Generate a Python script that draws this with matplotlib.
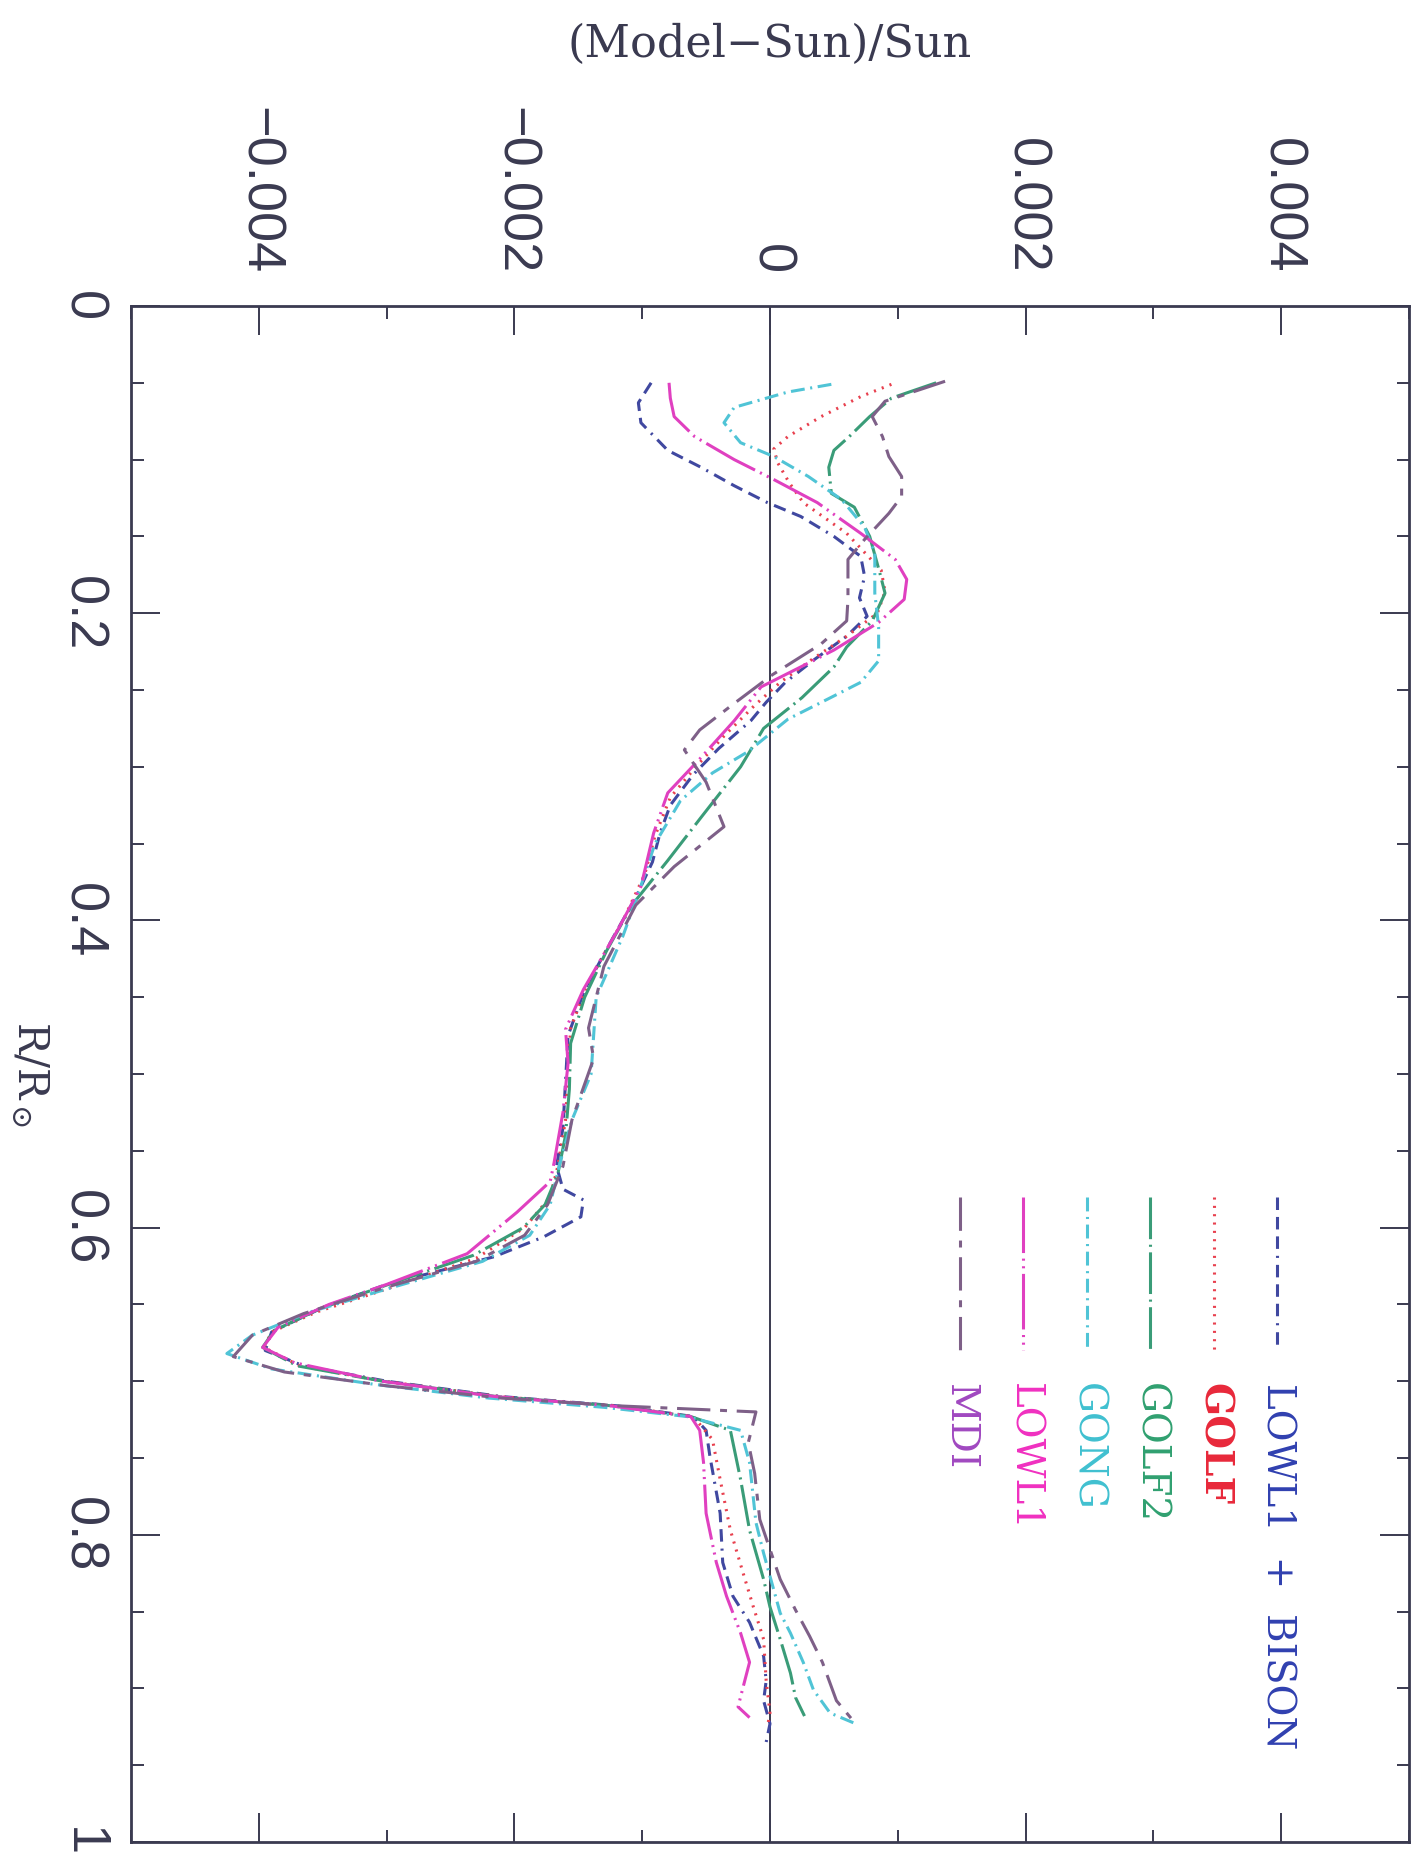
import numpy as np
import matplotlib.pyplot as plt
from matplotlib.lines import Line2D
from matplotlib.ticker import FixedLocator, FixedFormatter, MultipleLocator

plt.rcParams['font.family'] = ['Liberation Sans', 'DejaVu Sans']
plt.rcParams['mathtext.fontset'] = 'dejavuserif'
plt.rcParams['lines.scale_dashes'] = False

# radius R/Rsun and relative difference (units of 1e-3)
r_bison = [0.050, 0.063, 0.076, 0.094, 0.105, 0.117, 0.128, 0.137, 0.150, 0.163,
           0.176, 0.190, 0.202, 0.215, 0.230, 0.245, 0.258, 0.270, 0.288, 0.305,
           0.325, 0.343, 0.362, 0.385, 0.410, 0.445, 0.475, 0.505, 0.535, 0.560,
           0.575, 0.582, 0.593, 0.606, 0.619, 0.637, 0.652, 0.668, 0.680, 0.690,
           0.700, 0.710, 0.716, 0.723, 0.732, 0.749, 0.786, 0.818, 0.840, 0.857,
           0.879, 0.895, 0.908, 0.923, 0.935]
dc_bison = [-0.93, -1.03, -1.01, -0.80, -0.54, -0.28, -0.02, 0.24, 0.50, 0.71,
            0.74, 0.70, 0.76, 0.60, 0.35, 0.12, -0.03, -0.15, -0.40, -0.60,
            -0.78, -0.86, -0.92, -1.05, -1.22, -1.45, -1.58, -1.60, -1.62, -1.67,
            -1.62, -1.46, -1.48, -1.77, -2.16, -3.0, -3.5, -3.9, -3.95, -3.65,
            -3.0, -2.1, -1.2, -0.6, -0.5, -0.47, -0.39, -0.37, -0.29, -0.16,
            -0.05, -0.03, -0.05, 0.0, -0.03]

r_golf = [0.051, 0.059, 0.072, 0.085, 0.093, 0.102, 0.115, 0.128, 0.148, 0.172,
          0.186, 0.200, 0.215, 0.230, 0.245, 0.260, 0.280, 0.300, 0.320, 0.345,
          0.370, 0.400, 0.440, 0.470, 0.500, 0.530, 0.560, 0.580, 0.600, 0.620,
          0.640, 0.655, 0.668, 0.678, 0.690, 0.700, 0.710, 0.716, 0.723, 0.738,
          0.764, 0.797, 0.825, 0.847, 0.868, 0.895, 0.916, 0.925]
dc_golf = [0.95, 0.71, 0.40, 0.14, 0.03, 0.06, 0.15, 0.26, 0.60, 0.87,
           0.90, 0.84, 0.60, 0.33, 0.08, -0.12, -0.36, -0.58, -0.78, -0.90,
           -0.98, -1.15, -1.42, -1.56, -1.58, -1.60, -1.66, -1.72, -1.92, -2.30,
           -3.0, -3.55, -3.9, -3.96, -3.68, -3.02, -2.12, -1.22, -0.6, -0.45,
           -0.39, -0.31, -0.21, -0.13, -0.05, -0.03, 0.0, -0.02]

r_golf2 = [0.050, 0.060, 0.072, 0.085, 0.094, 0.105, 0.122, 0.131, 0.150, 0.174,
           0.187, 0.205, 0.222, 0.235, 0.255, 0.275, 0.300, 0.333, 0.361, 0.390,
           0.420, 0.450, 0.480, 0.510, 0.540, 0.565, 0.585, 0.600, 0.618, 0.638,
           0.652, 0.667, 0.678, 0.690, 0.700, 0.710, 0.716, 0.723, 0.732, 0.764,
           0.797, 0.829, 0.847, 0.868, 0.890, 0.906, 0.918]
dc_golf2 = [1.30, 0.95, 0.78, 0.62, 0.50, 0.46, 0.48, 0.66, 0.78, 0.86,
            0.90, 0.80, 0.60, 0.50, 0.25, -0.05, -0.23, -0.54, -0.80, -1.08,
            -1.28, -1.45, -1.56, -1.57, -1.60, -1.66, -1.76, -1.93, -2.32, -3.02,
            -3.5, -3.88, -3.97, -3.7, -3.03, -2.14, -1.24, -0.62, -0.31, -0.23,
            -0.16, -0.05, 0.0, 0.08, 0.16, 0.20, 0.27]

r_gong = [0.051, 0.056, 0.066, 0.076, 0.089, 0.098, 0.111, 0.126, 0.144, 0.161,
          0.187, 0.209, 0.231, 0.245, 0.256, 0.269, 0.290, 0.304, 0.322, 0.350,
          0.380, 0.410, 0.450, 0.500, 0.530, 0.560, 0.585, 0.605, 0.622, 0.640,
          0.655, 0.670, 0.682, 0.692, 0.702, 0.711, 0.717, 0.723, 0.732, 0.753,
          0.792, 0.812, 0.851, 0.864, 0.883, 0.901, 0.916, 0.923]
dc_gong = [0.48, 0.14, -0.28, -0.36, -0.23, 0.03, 0.30, 0.56, 0.74, 0.82,
           0.82, 0.85, 0.85, 0.71, 0.45, 0.14, -0.17, -0.45, -0.70, -0.90,
           -1.02, -1.15, -1.36, -1.40, -1.55, -1.65, -1.72, -1.88, -2.25, -3.0,
           -3.6, -4.05, -4.25, -3.9, -3.1, -2.2, -1.3, -0.65, -0.23, -0.16,
           -0.11, -0.05, 0.08, 0.16, 0.26, 0.34, 0.47, 0.67]

r_lowl1 = [0.050, 0.060, 0.072, 0.085, 0.100, 0.113, 0.128, 0.148, 0.165, 0.178,
           0.191, 0.206, 0.224, 0.235, 0.248, 0.270, 0.294, 0.317, 0.343, 0.378,
           0.406, 0.445, 0.471, 0.493, 0.525, 0.558, 0.570, 0.590, 0.617, 0.637,
           0.650, 0.665, 0.678, 0.688, 0.700, 0.710, 0.716, 0.723, 0.732, 0.753,
           0.786, 0.818, 0.840, 0.864, 0.883, 0.899, 0.912, 0.919]
dc_lowl1 = [-0.79, -0.78, -0.75, -0.59, -0.28, 0.03, 0.37, 0.71, 0.98, 1.07,
            1.05, 0.85, 0.50, 0.24, -0.07, -0.28, -0.54, -0.80, -0.91, -1.01,
            -1.19, -1.46, -1.60, -1.58, -1.62, -1.69, -1.72, -1.98, -2.37, -3.00,
            -3.45, -3.85, -3.97, -3.72, -3.04, -2.15, -1.25, -0.62, -0.55, -0.52,
            -0.50, -0.42, -0.34, -0.23, -0.16, -0.21, -0.25, -0.16]

r_mdi = [0.049, 0.062, 0.072, 0.085, 0.098, 0.111, 0.124, 0.135, 0.152, 0.165,
         0.178, 0.191, 0.205, 0.220, 0.240, 0.260, 0.276, 0.289, 0.310, 0.339,
         0.365, 0.390, 0.430, 0.470, 0.490, 0.530, 0.560, 0.585, 0.605, 0.622,
         0.640, 0.656, 0.670, 0.684, 0.694, 0.703, 0.711, 0.716, 0.720, 0.740,
         0.760, 0.790, 0.829, 0.849, 0.866, 0.883, 0.908, 0.921]
dc_mdi = [1.37, 0.90, 0.80, 0.88, 0.93, 1.03, 1.03, 0.93, 0.74, 0.61,
          0.61, 0.61, 0.60, 0.40, 0.02, -0.30, -0.55, -0.67, -0.50, -0.36,
          -0.75, -1.05, -1.30, -1.42, -1.38, -1.55, -1.62, -1.74, -1.92, -2.3,
          -3.05, -3.65, -4.05, -4.2, -3.8, -3.0, -2.1, -1.2, -0.11, -0.17,
          -0.12, -0.08, 0.08, 0.20, 0.31, 0.41, 0.52, 0.65]

names = ['LOWL1  +  BISON', 'GOLF', 'GOLF2', 'GONG', 'LOWL1', 'MDI']
radii = [r_bison, r_golf, r_golf2, r_gong, r_lowl1, r_mdi]
diffs = [dc_bison, dc_golf, dc_golf2, dc_gong, dc_lowl1, dc_mdi]
xticks = [-0.004, -0.002, 0, 0.002, 0.004]
xtick_labels = ['\u22120.004', '\u22120.002', '0', '0.002', '0.004']
yticks = [0, 0.2, 0.4, 0.6, 0.8, 1.0]
ytick_labels = ['0', '0.2', '0.4', '0.6', '0.8', '1']

line_colors = ['#4048a0', '#e8404e', '#3a9c78', '#50c4d6', '#e040c0', '#7e6088']
text_colors = ['#3040b0', '#e8283a', '#30a070', '#40c0d0', '#f030c0', '#a048c0']
dashes = [(0, (9, 5, 9, 5, 9, 5, 1.5, 5)),
          (0, (1.5, 4.5)),
          (0, (30, 4, 1.5, 4)),
          (0, (10, 4, 1.5, 4)),
          (0, (40, 4, 1.5, 4, 1.5, 4)),
          (0, (24, 7, 5, 7))]

W, H = 1426, 1854
fig = plt.figure(figsize=(W / 100, H / 100), dpi=100)
ax = fig.add_axes([131 / W, 1 - 1842 / H, 1278 / W, 1536 / H])

ink = '#3a3a50'
ax.axvline(0, color=ink, lw=1.4, zorder=1)
for r, d, c, ls in zip(radii, diffs, line_colors, dashes):
    ax.plot(np.array(d) * 1e-3, r, color=c, lw=2.2, linestyle=ls, zorder=2)

ax.set_xlim(-0.005, 0.005)
ax.set_ylim(1, 0)

ax.xaxis.set_major_locator(FixedLocator(xticks))
ax.xaxis.set_major_formatter(FixedFormatter(xtick_labels))
ax.xaxis.set_minor_locator(MultipleLocator(0.001))
ax.yaxis.set_major_locator(FixedLocator(yticks))
ax.yaxis.set_major_formatter(FixedFormatter(ytick_labels))
ax.yaxis.set_minor_locator(MultipleLocator(0.05))

ax.tick_params(which='both', direction='in', top=True, bottom=True, left=True, right=True,
               labeltop=True, labelbottom=False, color=ink, labelcolor=ink, width=1.4)
ax.tick_params(which='major', length=21)
ax.tick_params(which='minor', length=9)
ax.tick_params(axis='x', pad=23, labelsize=39, labelrotation=-90)
ax.tick_params(axis='y', pad=17, labelsize=39, labelrotation=-90)
for lab in ax.get_yticklabels():
    lab.set_va('center')
for sp in ax.spines.values():
    sp.set_color(ink)
    sp.set_linewidth(2)

ax.set_xlabel('(Model\u2212Sun)/Sun', family='DejaVu Serif', fontsize=32, color=ink)
ax.xaxis.set_label_position('top')
ax.xaxis.set_label_coords(0.5, (1842 - 44) / 1536)
ax.xaxis.label.set_va('center')
ax.set_ylabel(r'R/R$_\odot$', family='DejaVu Serif', fontsize=30, color=ink, rotation=-90)
ax.yaxis.set_label_coords((30 - 131) / 1278, 0.5)
ax.yaxis.label.set_va('center')
ax.yaxis.label.set_ha('center')

# legend drawn vertically, reading top to bottom
for i, (name, lc, tc, ls) in enumerate(zip(names, line_colors, text_colors, dashes)):
    x = (1277 - 63.4 * i) / W
    fig.add_artist(Line2D([x, x], [1 - 1197 / H, 1 - 1350 / H], transform=fig.transFigure,
                          color=lc, lw=2.2, linestyle=ls))
    fig.text(x, 1 - 1383 / H, name, rotation=-90, ha='center', va='top',
             family='DejaVu Serif', fontsize=28, color=tc,
             weight='bold' if name == 'GOLF' else 'normal')

fig.savefig('out.png', dpi=100)
